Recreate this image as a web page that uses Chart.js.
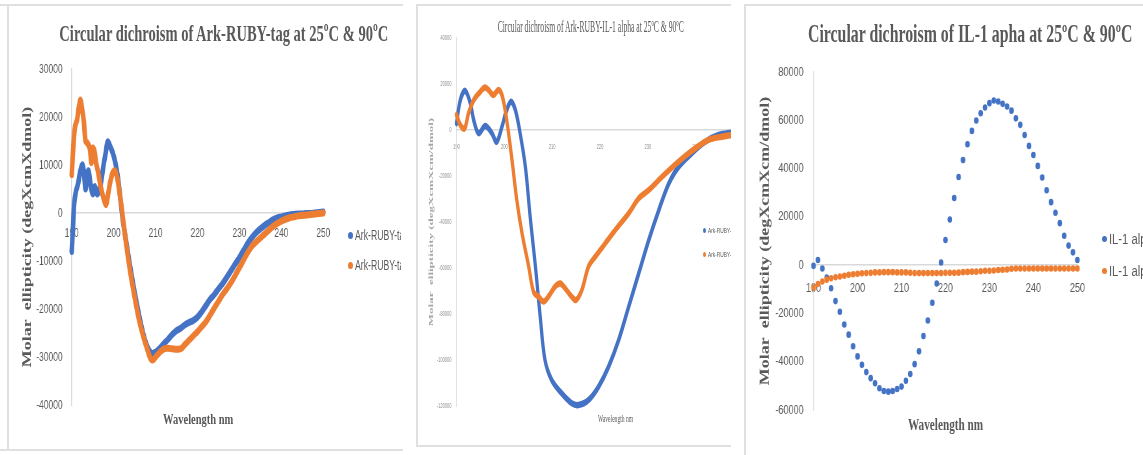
<!DOCTYPE html>
<html>
<head>
<meta charset="utf-8">
<script src="https://cdn.jsdelivr.net/npm/chart.js@4.4.1/dist/chart.umd.min.js"></script>
<style>
html, body { margin: 0; padding: 0; background: #fff; }
#page { position: relative; width: 1143px; height: 455px; overflow: hidden; background: #fff; }
.clip { position: absolute; top: 0; height: 455px; overflow: hidden; }
.rule { position: absolute; background: #e0e0e0; }
canvas { position: absolute; transform-origin: 0 0; }
.lbl { position: absolute; white-space: nowrap; line-height: 1.15; }
.dot { position: absolute; border-radius: 50%; }
</style>
</head>
<body>
<div id="page">
  <!-- the source picture is squeezed sideways, so each canvas is drawn wider and narrowed with scaleX -->
  <div class="clip" style="left:0;width:401px"><canvas id="c1" width="605" height="443" style="left:8px;top:6px;transform:scaleX(0.65)"></canvas></div>
  <div class="clip" style="left:417px;width:314px"><canvas id="c2" width="680" height="438" style="left:2px;top:7px;transform:scaleX(0.5)"></canvas></div>
  <div class="clip" style="left:745px;width:398px"><canvas id="c3" width="566" height="446" style="left:2px;top:7px;transform:scaleX(0.7)"></canvas></div>
  <div class="rule" style="left:0;top:4px;width:403px;height:2px"></div>
  <div class="rule" style="left:7px;top:4px;width:2px;height:447px"></div>
  <div class="rule" style="left:0;top:449px;width:403px;height:2px"></div>
  <div class="rule" style="left:417px;top:4px;width:314px;height:2px"></div>
  <div class="rule" style="left:416px;top:4px;width:2px;height:443px"></div>
  <div class="rule" style="left:417px;top:445px;width:314px;height:2px"></div>
  <div class="rule" style="left:745px;top:4px;width:398px;height:2px"></div>
  <div class="rule" style="left:744px;top:4px;width:2px;height:451px"></div>
</div>
<script>
// Ark-RUBY-tag, 25ºC (blue) and 90ºC (orange)
var arkWl25 = [190, 190.3, 190.6, 191, 191.5, 192, 192.6, 193, 193.3, 193.7, 194, 194.5, 195, 195.5, 196, 196.5, 197.1, 197.6, 198.1, 198.6, 199.2, 199.8, 200.4, 201, 201.6, 202.2, 203, 204, 205, 206, 207, 208, 209, 210, 211, 212, 213, 214, 215, 216, 217, 218, 219, 220, 221, 222, 223, 224, 225, 226, 227, 228, 229, 230, 231, 232, 233, 234, 235, 236, 237, 238, 239, 240, 241, 242, 243, 244, 245, 246, 247, 248, 249, 250];
var arkVal25 = [-8000, -3000, 2000, 4500, 6000, 8500, 10000, 7500, 5000, 7500, 8800, 6000, 4000, 5500, 4000, 4500, 7000, 10000, 12500, 14800, 13800, 12500, 10500, 7500, 3000, -1500, -6000, -11500, -16500, -21000, -25000, -27800, -29200, -29000, -28200, -27200, -26300, -25300, -24500, -24000, -23300, -22800, -22400, -21700, -20600, -19300, -18000, -17000, -15800, -14700, -13400, -12000, -10600, -9300, -7800, -6300, -5100, -4100, -3300, -2600, -2000, -1400, -1000, -800, -600, -400, -300, -200, -200, -100, -100, 0, 100, 200];
var arkWl90 = [190, 190.4, 190.8, 191.3, 191.7, 192.1, 192.5, 192.9, 193.3, 193.8, 194.3, 194.7, 195, 195.4, 195.8, 196.3, 196.8, 197.3, 197.8, 198.2, 198.7, 199.2, 199.7, 200.2, 200.7, 201.2, 201.7, 202.2, 203, 204, 205, 206, 207, 208, 208.8, 209.4, 210, 211, 212, 213, 214, 215, 216, 217, 218, 219, 220, 221, 222, 223, 224, 225, 226, 227, 228, 229, 230, 231, 232, 233, 234, 235, 236, 237, 238, 239, 240, 241, 242, 243, 244, 245, 246, 247, 248, 249, 250];
var arkVal90 = [8000, 14000, 18000, 19500, 22000, 23500, 21500, 19000, 15000, 14500, 13500, 10500, 13500, 13000, 10500, 8500, 6000, 4000, 2500, 1800, 4000, 6500, 8200, 8800, 8000, 5500, 2500, -1000, -6500, -12500, -17500, -22000, -25500, -28300, -30300, -30600, -30000, -29000, -28300, -28200, -28300, -28400, -28300, -27400, -26500, -25600, -24700, -23700, -22700, -21300, -19800, -18400, -17000, -15800, -14500, -13000, -11400, -9800, -8200, -6900, -6000, -5200, -4400, -3600, -2800, -2200, -1700, -1300, -1000, -800, -600, -500, -400, -300, -200, -100, 0];

// Ark-RUBY-IL-1 alpha, 25ºC (blue) and 90ºC (orange)
var fusWl25 = [190, 190.8, 191.8, 192.9, 193.6, 194.6, 196, 197.4, 198.4, 199.5, 200.5, 201.4, 202.3, 203.3, 204.4, 205.4, 206.5, 207.5, 208.5, 209.9, 212, 214.1, 215.5, 217.6, 219.7, 221.8, 223.9, 226, 228.1, 230.2, 232.3, 234.4, 236.5, 239.2, 242, 244.8, 247.5, 250];
var fusVal25 = [3000, 13000, 17000, 11600, 4300, -1400, 1700, -1400, -5100, 1400, 8700, 12300, 8700, -1400, -16000, -37700, -59400, -81100, -100000, -108700, -114500, -118800, -119600, -117400, -111600, -102900, -91300, -76800, -62300, -47800, -34800, -23200, -15900, -10100, -5100, -2200, -1200, -500];
var fusWl90 = [190, 190.8, 191.7, 192.5, 193.6, 195, 195.9, 196.7, 197.7, 198.8, 199.6, 200.5, 201.6, 202.6, 203.7, 205.1, 206.1, 207.2, 208.2, 209.2, 210.6, 211.7, 212.7, 214.1, 215, 216.2, 217.6, 219, 221.1, 223.2, 226, 228.1, 230.2, 233, 236.4, 239.9, 242.7, 245.5, 247.5, 250];
var fusVal90 = [6500, 2200, 700, 7200, 13000, 16700, 18500, 17400, 15200, 17400, 14500, 4300, -13000, -30400, -44900, -59400, -70300, -72500, -74600, -72500, -68100, -66700, -68800, -72500, -73900, -69600, -59400, -55100, -49300, -43500, -36200, -29700, -26100, -20300, -13800, -8000, -4300, -2900, -2200, -1800];

// IL-1 alpha, 25ºC (blue) and 90ºC (orange), one point per nm
var ilWl = [190, 191, 192, 193, 194, 195, 196, 197, 198, 199, 200, 201, 202, 203, 204, 205, 206, 207, 208, 209, 210, 211, 212, 213, 214, 215, 216, 217, 218, 219, 220, 221, 222, 223, 224, 225, 226, 227, 228, 229, 230, 231, 232, 233, 234, 235, 236, 237, 238, 239, 240, 241, 242, 243, 244, 245, 246, 247, 248, 249, 250];
var ilVal25 = [-300, 2100, -1400, -5100, -9600, -14900, -19300, -24600, -28800, -33600, -37800, -41300, -44300, -46800, -48900, -51000, -52100, -52400, -52100, -51300, -50300, -47900, -45100, -41000, -35700, -29400, -22900, -15600, -7600, 1100, 10400, 18900, 27800, 36500, 43500, 50100, 55600, 59900, 62900, 65300, 67100, 68200, 67800, 66800, 65700, 64000, 60800, 58100, 53900, 49400, 45600, 41100, 36300, 31000, 26100, 21700, 17400, 12200, 8100, 5300, 2100];
var ilVal90 = [-9300, -7800, -6800, -6000, -5400, -5000, -4700, -4400, -4000, -3800, -3600, -3400, -3300, -3200, -3000, -3000, -2900, -2900, -2900, -3000, -3000, -3000, -3200, -3300, -3300, -3300, -3300, -3300, -3300, -3300, -3200, -3200, -3200, -3100, -2900, -2800, -2700, -2700, -2500, -2300, -2300, -2200, -2000, -1900, -1800, -1500, -1400, -1400, -1400, -1400, -1400, -1400, -1400, -1400, -1400, -1400, -1400, -1400, -1400, -1400, -1400];

var BLUE = '#4472C4';
var ORANGE = '#ED7D31';
var TICK_FONT = "'Liberation Sans', Arial, sans-serif";
var SERIF = "'Liberation Serif', 'Times New Roman', serif";

function pts(xs, ys) {
    return xs.map(function (x, i) { return { x: x, y: ys[i] }; });
}

function lineSet(label, xs, ys, color, w, order) {
    return {
        label: label, data: pts(xs, ys), borderColor: color, backgroundColor: color,
        borderWidth: w, pointRadius: 0, tension: 0.35, fill: false, clip: false, order: order,
        borderCapStyle: 'round', borderJoinStyle: 'round'
    };
}

function dotSet(label, xs, ys, color, order) {
    return {
        label: label, data: pts(xs, ys), showLine: false, pointRadius: 3.3,
        pointBackgroundColor: color, pointBorderColor: color, pointBorderWidth: 0, clip: false, order: order
    };
}

function makeChart(id, datasets, o) {
    return new Chart(document.getElementById(id).getContext('2d'), {
        type: 'line',
        data: { datasets: datasets },
        options: {
            responsive: false,
            animation: false,
            devicePixelRatio: 1,
            layout: { padding: o.pad },
            plugins: { legend: { display: false }, tooltip: { enabled: false } },
            scales: {
                x: {
                    type: 'linear', position: { y: 0 }, min: 190, max: 250,
                    ticks: { stepSize: 10, padding: o.xPad, color: o.tickColor, autoSkip: false, maxRotation: 0,
                             font: { family: TICK_FONT, size: o.tickSize }, callback: function (v) { return String(v); } },
                    grid: { display: false, drawTicks: false },
                    border: { display: true, color: '#d9d9d9', width: 1.5 },
                    afterFit: function (s) { s.height = 0; }
                },
                y: {
                    type: 'linear', min: o.yMin, max: o.yMax,
                    ticks: { stepSize: o.yStep, padding: o.yPad, color: o.tickColor,
                             font: { family: TICK_FONT, size: o.tickSize }, callback: function (v) { return String(v); } },
                    grid: { display: false, drawTicks: false },
                    border: { display: true, color: '#d9d9d9', width: 1.5 },
                    title: { display: true, text: o.yTitle, color: o.yTitleColor,
                             font: { family: SERIF, size: o.yTitleSize, weight: 'bold' },
                             padding: { top: o.yTitlePad, bottom: 0 } },
                    afterFit: function (s) { s.width = o.yWidth; }
                }
            }
        }
    });
}

makeChart('c1', [
    lineSet('Ark-RUBY-tag 25ºC', arkWl25, arkVal25, BLUE, 7, 1),
    lineSet('Ark-RUBY-tag 90ºC', arkWl90, arkVal90, ORANGE, 7, 0)
], {
    pad: { left: 0, top: 63, right: 120, bottom: 44 }, yWidth: 98,
    yMin: -40000, yMax: 30000, yStep: 10000, xPad: 13, yPad: 14, tickSize: 13, tickColor: '#595959',
    yTitle: 'Molar  ellipticity (degXcmXdmol)', yTitleColor: '#595959', yTitleSize: 18, yTitlePad: 20
});

makeChart('c2', [
    lineSet('Ark-RUBY-IL-1 alpha 25ºC', fusWl25, fusVal25, BLUE, 6.5, 1),
    lineSet('Ark-RUBY-IL-1 alpha 90ºC', fusWl90, fusVal90, ORANGE, 6.5, 0)
], {
    pad: { left: 0, top: 31, right: 31, bottom: 39 }, yWidth: 75,
    yMin: -120000, yMax: 40000, yStep: 20000, xPad: 12, yPad: 10, tickSize: 8, tickColor: '#8c8c8c',
    yTitle: 'Molar  ellipticity (degXcmXcm/dmol)', yTitleColor: '#a6a6a6', yTitleSize: 13, yTitlePad: 17
});

makeChart('c3', [
    dotSet('IL-1 alpha 25ºC', ilWl, ilVal25, BLUE, 1),
    dotSet('IL-1 alpha 90ºC', ilWl, ilVal90, ORANGE, 0)
], {
    pad: { left: 0, top: 65, right: 94, bottom: 43 }, yWidth: 95,
    yMin: -60000, yMax: 80000, yStep: 20000, xPad: 15, yPad: 14, tickSize: 13, tickColor: '#595959',
    yTitle: 'Molar  ellipticity (degXcmXcm/dmol)', yTitleColor: '#595959', yTitleSize: 18, yTitlePad: 16
});

// titles, x-axis captions and legends (condensed like the source image)
var page = document.getElementById('page');

function place(txt, cx, cy, w, font, color) {
    var el = document.createElement('div');
    el.className = 'lbl';
    el.textContent = txt;
    el.style.font = font;
    el.style.color = color;
    page.appendChild(el);
    var ow = el.offsetWidth, oh = el.offsetHeight;
    el.style.left = (cx - ow / 2) + 'px';
    el.style.top = (cy - oh / 2) + 'px';
    el.style.transformOrigin = '50% 50%';
    el.style.transform = 'scaleX(' + (w / ow).toFixed(3) + ')';
}

function key(txt, color, x, cy, dw, dh, size, sx, clipEl) {
    var d = document.createElement('div');
    d.className = 'dot';
    d.style.background = color;
    d.style.width = dw + 'px';
    d.style.height = dh + 'px';
    d.style.left = (x - dw / 2) + 'px';
    d.style.top = (cy - dh / 2) + 'px';
    clipEl.appendChild(d);
    var el = document.createElement('div');
    el.className = 'lbl';
    el.textContent = txt;
    el.style.font = size + 'px ' + TICK_FONT;
    el.style.color = '#595959';
    clipEl.appendChild(el);
    el.style.left = (x + dw / 2 + 2) + 'px';
    el.style.top = (cy - el.offsetHeight / 2) + 'px';
    el.style.transformOrigin = '0 50%';
    el.style.transform = 'scaleX(' + sx + ')';
}

var clips = document.querySelectorAll('.clip');

place('Circular dichroism of Ark-RUBY-tag at 25ºC & 90ºC', 223.5, 33, 329, 'bold 24px ' + SERIF, '#595959');
place('Circular dichroism of Ark-RUBY-IL-1 alpha at 25ºC & 90ºC', 590, 27, 186, '16px ' + SERIF, '#595959');
place('Circular dichroism of IL-1 apha at 25ºC & 90ºC', 970, 34, 324, 'bold 25px ' + SERIF, '#595959');

place('Wavelength  nm', 198, 419, 70, 'bold 15px ' + SERIF, '#595959');
place('Wavelength nm', 615.5, 418, 35, '11px ' + SERIF, '#595959');
place('Wavelength  nm', 945.5, 425, 75, 'bold 16px ' + SERIF, '#595959');

key('Ark-RUBY-tag 25ºC', BLUE, 350, 235, 5, 7, 14, 0.62, clips[0]);
key('Ark-RUBY-tag 90ºC', ORANGE, 350, 265, 5, 7, 14, 0.62, clips[0]);
key('Ark-RUBY-IL-1 alpha 25ºC', BLUE, 704.3 - 417, 230, 3, 5, 8, 0.6, clips[1]);
key('Ark-RUBY-IL-1 alpha 90ºC', ORANGE, 704.3 - 417, 254, 3, 5, 8, 0.6, clips[1]);
key('IL-1 alpha 25ºC', BLUE, 1104.3 - 745, 239, 5, 6, 14, 0.8, clips[2]);
key('IL-1 alpha 90ºC', ORANGE, 1104.3 - 745, 271, 5, 6, 14, 0.8, clips[2]);
</script>
</body>
</html>
